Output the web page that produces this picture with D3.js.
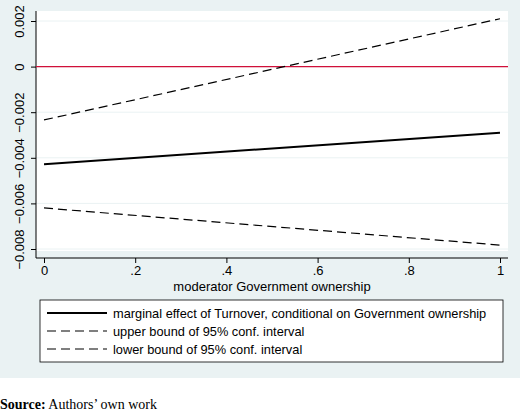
<!DOCTYPE html><html><head><script src="https://d3js.org/d3.v7.min.js"></script>
<style>body{margin:0;background:#fff}</style></head><body><script>
const xs=[0,1];
const effect=[-0.00428,-0.0029];
const upper=[-0.00234,0.0021];
const lower=[-0.0062,-0.00783];
const xTicks=[0,0.2,0.4,0.6,0.8,1];
const xTickLabels=["0",".2",".4",".6",".8","1"];
const yTicks=[0.002,0,-0.002,-0.004,-0.006,-0.008];
const yTickLabels=["0.002","0","\u22120.002","\u22120.004","\u22120.006","\u22120.008"];
const legendLabels=["marginal effect of Turnover, conditional on Government ownership","upper bound of 95% conf. interval","lower bound of 95% conf. interval"];
const W=520,H=413;
const svg=d3.select("body").append("svg").attr("width",W).attr("height",H);
svg.append("rect").attr("width",W).attr("height",378).attr("fill","#eaf2f3");
const x=d3.scaleLinear().domain([0,1]).range([44,500]);
const y=d3.scaleLinear().domain([-0.008,0.002]).range([249,21]);
svg.append("rect").attr("x",36).attr("y",11).attr("width",472).attr("height",240).attr("fill","#fff");
svg.selectAll(".g").data(yTicks).enter().append("line").attr("x1",36).attr("x2",508).attr("y1",d=>y(d)).attr("y2",d=>y(d)).attr("stroke","#eaf2f3").attr("stroke-width",1);
const ax=svg.append("g").attr("transform","translate(0,258)").call(d3.axisBottom(x).tickValues(xTicks).tickFormat((d,i)=>xTickLabels[i]).tickSize(5).tickSizeOuter(0));
ax.select(".domain").attr("d","M36,0H508");
ax.selectAll("text").attr("font-family","Liberation Sans, Arial").attr("font-size",13).attr("fill","#000");
const ay=svg.append("g").attr("transform","translate(36,0)").call(d3.axisLeft(y).tickValues(yTicks).tickFormat((d,i)=>yTickLabels[i]).tickSize(5).tickSizeOuter(0));
ay.select(".domain").attr("d","M0,11V258");
ay.selectAll(".tick text").attr("font-family","Liberation Sans, Arial").attr("font-size",13).attr("fill","#000")
 .attr("text-anchor","middle").attr("x",0).attr("y",0).attr("dy","0").attr("transform","rotate(-90) translate(0,-12)");
svg.append("text").attr("x",272).attr("y",291).attr("text-anchor","middle").attr("font-family","Liberation Sans, Arial").attr("font-size",13).text("moderator Government ownership");
svg.append("line").attr("x1",36).attr("x2",508).attr("y1",y(0)).attr("y2",y(0)).attr("stroke","#d0103a").attr("stroke-width",1.3);
const line=d3.line().x((d,i)=>x(xs[i])).y(d=>y(d));
svg.append("path").attr("d",line(upper)).attr("fill","none").attr("stroke","#000").attr("stroke-width",1.2).attr("stroke-dasharray","9,5");
svg.append("path").attr("d",line(lower)).attr("fill","none").attr("stroke","#000").attr("stroke-width",1.2).attr("stroke-dasharray","9,5");
svg.append("path").attr("d",line(effect)).attr("fill","none").attr("stroke","#000").attr("stroke-width",2);
svg.append("rect").attr("x",40).attr("y",300).attr("width",463).attr("height",62).attr("fill","#fff").attr("stroke","#000").attr("stroke-width",0.8);
legendLabels.forEach((t,i)=>{const yy=313+i*18;
 svg.append("line").attr("x1",47).attr("x2",107).attr("y1",yy).attr("y2",yy).attr("stroke","#000").attr("stroke-width",i?1.2:2).attr("stroke-dasharray",i?"9,5":null);
 svg.append("text").attr("x",113).attr("y",yy+4.5).attr("font-family","Liberation Sans, Arial").attr("font-size",12.8).text(t);});
const s=svg.append("text").attr("x",0).attr("y",409).attr("font-family","Liberation Serif, Times New Roman").attr("font-size",14);
s.append("tspan").attr("font-weight","bold").text("Source:");
s.append("tspan").text(" Authors’ own work");
</script></body></html>
